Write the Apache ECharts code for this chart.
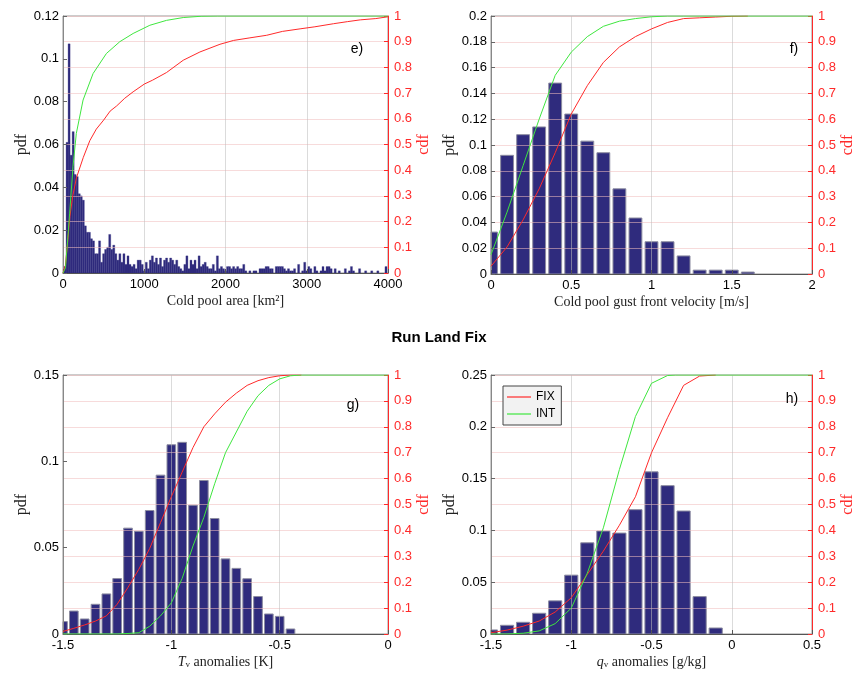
<!DOCTYPE html>
<html><head><meta charset="utf-8">
<script src="https://cdn.jsdelivr.net/npm/echarts@6/dist/echarts.min.js"></script>
<style>html,body{margin:0;padding:0;background:#fff}#c{width:857px;height:674px}</style>
</head><body><div id="c"></div>
<script>
// ---------- Panel e: Cold pool area ----------
const eBinFirst = 25, eBinStep = 25; // bin centres in km^2
const ePdf = [0.003,0.061,0.107,0.055,0.066,0.046,0.045,0.037,0.036,0.034,
0.022,0.019,0.019,0.016,0.015,0.009,0.009,0.015,0.005,0.009,
0.011,0.012,0.018,0.011,0.013,0.009,0.006,0.009,0.005,0.009,
0.004,0.008,0.004,0.003,0.004,0.002,0.006,0.006,0.004,0.001,
0.005,0.002,0.006,0.008,0.005,0.007,0.004,0.007,0.003,0.006,
0.007,0.005,0.007,0.006,0.004,0.006,0.003,0.002,0.001,0.004,
0.008,0.002,0.006,0.004,0.006,0.002,0.008,0.003,0.004,0.005,
0.003,0.002,0.002,0.004,0.001,0.008,0.002,0.003,0.002,0.001,
0.003,0.003,0.002,0.003,0.002,0.003,0.002,0.002,0.004,0.001,
0.000,0.001,0.000,0.001,0.001,0.000,0.002,0.002,0.002,0.003,
0.003,0.002,0.002,0.000,0.003,0.003,0.003,0.003,0.002,0.001,
0.002,0.001,0.001,0.002,0.000,0.004,0.000,0.001,0.005,0.001,
0.003,0.002,0.000,0.003,0.001,0.000,0.001,0.003,0.001,0.003,
0.003,0.002,0.000,0.002,0.000,0.001,0.000,0.000,0.002,0.000,
0.001,0.003,0.001,0.000,0.000,0.002,0.000,0.000,0.001,0.000,
0.000,0.001,0.000,0.000,0.001,0.000,0.000,0.000,0.003,0.000];
const eFixX = [0,30,60,85,120,165,250,330,410,500,580,660,760,863,1000,1100,1274,1480,1685,1932,2100,2300,2507,2700,2918,3100,3330,3500,3660,3850,4000];
const eFixY = [0,0.03,0.13,0.22,0.30,0.37,0.45,0.515,0.56,0.595,0.63,0.65,0.68,0.705,0.735,0.75,0.78,0.828,0.86,0.89,0.905,0.915,0.925,0.94,0.95,0.958,0.97,0.978,0.985,0.99,0.997];
const eIntX = [0,30,60,82,123,164,247,370,534,699,863,1069,1274,1480,1700,1900,4000];
const eIntY = [0,0.02,0.14,0.233,0.414,0.543,0.673,0.776,0.854,0.9,0.932,0.964,0.983,0.994,0.999,1,1];

// ---------- Panel f: gust front velocity ----------
const fBins = [0,0.1,0.2,0.3,0.4,0.5,0.6,0.7,0.8,0.9,1.0,1.1,1.2,1.3,1.4,1.5,1.6];
const fPdf  = [0.0325,0.092,0.108,0.114,0.148,0.124,0.103,0.094,0.066,0.0434,0.025,0.025,0.014,0.003,0.003,0.003,0.0015];
const fFixX = [0,0.1,0.2,0.3,0.4,0.5,0.6,0.7,0.8,0.9,1.0,1.1,1.2,1.3,1.4,1.5,1.6];
const fFixY = [0.03,0.105,0.21,0.33,0.47,0.62,0.73,0.82,0.88,0.92,0.95,0.975,0.99,0.993,0.996,0.999,1];
const fIntX = [0,0.1,0.2,0.3,0.4,0.5,0.6,0.7,0.8,0.9,1.0,1.1,1.2,2.0];
const fIntY = [0.075,0.24,0.42,0.6,0.77,0.86,0.92,0.96,0.98,0.99,0.997,1,1,1];

// ---------- Panel g: Tv anomalies ----------
const gBins = [-1.5,-1.45,-1.4,-1.35,-1.3,-1.25,-1.2,-1.15,-1.1,-1.05,-1.0,-0.95,-0.9,-0.85,-0.8,-0.75,-0.7,-0.65,-0.6,-0.55,-0.5,-0.45];
const gPdf  = [0.0072,0.0133,0.0087,0.0172,0.0232,0.0321,0.0613,0.0595,0.0715,0.092,0.1096,0.111,0.0746,0.0889,0.0669,0.0435,0.038,0.032,0.0217,0.0116,0.0102,0.0029];
const gFixX = [-1.5,-1.45,-1.4,-1.35,-1.3,-1.25,-1.2,-1.15,-1.1,-1.05,-1.0,-0.95,-0.9,-0.85,-0.8,-0.75,-0.7,-0.65,-0.6,-0.55,-0.5,-0.45,-0.4];
const gFixY = [0.01,0.022,0.035,0.05,0.07,0.115,0.18,0.25,0.33,0.43,0.53,0.625,0.72,0.8,0.85,0.895,0.93,0.96,0.978,0.99,0.997,1,1];
const gIntX = [-1.5,-1.25,-1.2,-1.15,-1.1,-1.05,-1.0,-0.95,-0.9,-0.85,-0.8,-0.75,-0.7,-0.65,-0.6,-0.55,-0.5,-0.45,-0.4,0];
const gIntY = [0,0,0.002,0.005,0.03,0.07,0.12,0.215,0.34,0.45,0.58,0.7,0.78,0.86,0.92,0.96,0.985,0.997,1,1];

// ---------- Panel h: qv anomalies ----------
const hBins = [-1.5,-1.4,-1.3,-1.2,-1.1,-1.0,-0.9,-0.8,-0.7,-0.6,-0.5,-0.4,-0.3,-0.2,-0.1];
const hPdf  = [0.0039,0.0084,0.0113,0.02,0.032,0.0568,0.088,0.0994,0.0974,0.12,0.1565,0.1432,0.1187,0.0361,0.0058];
const hFixX = [-1.5,-1.4,-1.3,-1.2,-1.1,-1.0,-0.9,-0.8,-0.7,-0.6,-0.5,-0.4,-0.3,-0.2,-0.1];
const hFixY = [0.005,0.015,0.03,0.05,0.085,0.14,0.23,0.32,0.42,0.53,0.7,0.835,0.96,0.996,1];
const hIntX = [-1.5,-1.4,-1.3,-1.2,-1.1,-1.0,-0.9,-0.8,-0.7,-0.6,-0.5,-0.4,-0.35,0.5];
const hIntY = [0,0,0.003,0.012,0.04,0.1,0.235,0.41,0.635,0.84,0.968,0.998,1,1];

// ---------- axis ranges / tick settings ----------
const xRanges  = [[0,4000,1000],[0,2,0.5],[-1.5,0,0.5],[-1.5,0.5,0.5]];
const pdfRanges = [[0,0.12,0.02],[0,0.2,0.02],[0,0.15,0.05],[0,0.25,0.05]];
const xNames = ['Cold pool area [km²]','Cold pool gust front velocity [m/s]','{it|T}{sub|v} anomalies [K]','{it|q}{sub|v} anomalies [g/kg]'];
const panelTags = ['e)','f)','g)','h)'];
const titleText = 'Run Land Fix';

const eBins = ePdf.map((_, i) => eBinFirst + i * eBinStep);

const NAVY = '#2f2b7d', RED = '#ff2a2a', GREEN = '#3fe63f';
const SERIF = '"Liberation Serif","DejaVu Serif",serif';
const SANS = '"Liberation Sans",Arial,sans-serif';

const grids = [
  {left:63, top:16, width:325, height:257},
  {left:491, top:16, width:325, height:258},
  {left:63, top:375, width:325, height:259},
  {left:491, top:375, width:325, height:259}
];
// drawn bar width in data units (style)
const barDataWidths = [25, 0.08, 0.04, 0.082];
const bins = [eBins, fBins, gBins, hBins];
const pdfs = [ePdf, fPdf, gPdf, hPdf];
const fixes = [[eFixX,eFixY],[fFixX,fFixY],[gFixX,gFixY],[hFixX,hFixY]];
const ints = [[eIntX,eIntY],[fIntX,fIntY],[gIntX,gIntY],[hIntX,hIntY]];
const pairs = (xs, ys) => xs.map((x, i) => [x, ys[i]]);
const plain = v => String(+v.toFixed(4));

function barRenderer(halfW, stroked) {
  return function (params, api) {
    const x = api.value(0), y = api.value(1);
    if (!(y > 0)) return null;
    const p0 = api.coord([x - halfW, 0]);
    const p1 = api.coord([x + halfW, y]);
    const cs = params.coordSys;
    const r = echarts.graphic.clipRectByRect(
      {x: p0[0], y: p1[1], width: p1[0] - p0[0], height: p0[1] - p1[1]},
      {x: cs.x, y: cs.y, width: cs.width, height: cs.height});
    if (!r) return null;
    return {type:'rect', shape:r,
      style: stroked ? {fill:NAVY, stroke:'#8c8ca0', lineWidth:1} : {fill:NAVY, stroke:NAVY, lineWidth:0.3}};
  };
}

const xAxis = [], yAxis = [], series = [];
for (let i = 0; i < 4; i++) {
  xAxis.push({
    type:'value', gridIndex:i, min:xRanges[i][0], max:xRanges[i][1], interval:xRanges[i][2], z:3,
    axisLine:{show:true, onZero:false, lineStyle:{color:'#555', width:1}},
    axisTick:{show:true, inside:true, length:4, lineStyle:{color:'#555'}},
    axisLabel:{color:'#000', fontSize:13, fontFamily:SANS, margin:5, formatter:plain},
    splitLine:{show:true, lineStyle:{color:'rgba(190,190,190,0.55)', width:1}},
    name:xNames[i], nameLocation:'middle', nameGap:21,
    nameTextStyle:{color:'#222', fontSize:14, fontFamily:SERIF,
      rich:{it:{fontStyle:'italic', fontSize:14, fontFamily:SERIF, color:'#222'},
            sub:{fontSize:9, fontFamily:SERIF, color:'#222', verticalAlign:'bottom', lineHeight:10}}}
  });
  yAxis.push({
    type:'value', gridIndex:i, position:'left', min:pdfRanges[i][0], max:pdfRanges[i][1], interval:pdfRanges[i][2], z:3,
    axisLine:{show:true, onZero:false, lineStyle:{color:'#888'}},
    axisTick:{show:true, inside:true, length:4, lineStyle:{color:'#666'}},
    axisLabel:{color:'#000', fontSize:13, fontFamily:SANS, margin:4, formatter:plain},
    splitLine:{show:false},
    name:'pdf', nameLocation:'middle', nameGap:33,
    nameTextStyle:{color:'#222', fontSize:16, fontFamily:SERIF}
  });
  yAxis.push({
    type:'value', gridIndex:i, position:'right', min:0, max:1, interval:0.1, z:3,
    axisLine:{show:true, onZero:false, lineStyle:{color:RED}},
    axisTick:{show:true, inside:true, length:4, lineStyle:{color:RED}},
    axisLabel:{color:RED, fontSize:13, fontFamily:SANS, margin:6, formatter:plain},
    splitLine:{show:true, lineStyle:{color:'rgba(240,190,190,0.55)', width:1}},
    name:'cdf', nameLocation:'middle', nameGap:28,
    nameTextStyle:{color:RED, fontSize:16, fontFamily:SERIF}
  });
  series.push({
    type:'custom', name:'pdf'+i, xAxisIndex:i, yAxisIndex:2*i, data:pairs(bins[i], pdfs[i]),
    renderItem: barRenderer(barDataWidths[i] / 2, i !== 0), z:2, silent:true,
    encode:{x:0, y:1}
  });
  series.push({
    type:'line', name:'FIX', xAxisIndex:i, yAxisIndex:2*i+1, data:pairs(fixes[i][0], fixes[i][1]),
    symbol:'none', z:5, clip:true, lineStyle:{color:RED, width:1}, itemStyle:{color:RED}
  });
  series.push({
    type:'line', name:'INT', xAxisIndex:i, yAxisIndex:2*i+1, data:pairs(ints[i][0], ints[i][1]),
    symbol:'none', z:5, clip:true, lineStyle:{color:GREEN, width:1}, itemStyle:{color:GREEN}
  });
}

const tagPos = [[357,49],[794,49],[353,405],[792,399]];
const graphic = panelTags.map((t, i) => ({
  type:'text', x:tagPos[i][0], y:tagPos[i][1], z:10,
  style:{text:t, fill:'#000', font:'14px '+SANS, textAlign:'center', textVerticalAlign:'middle'}
}));
graphic.push({type:'text', x:439, y:338, z:10,
  style:{text:titleText, fill:'#000', font:'bold 15px '+SANS, textAlign:'center', textVerticalAlign:'middle'}});

const chart = echarts.init(document.getElementById('c'), null, {renderer:'canvas'});
chart.setOption({
  animation:false,
  backgroundColor:'#fff',
  grid: grids.map(g => Object.assign({show:true, borderColor:'#999', borderWidth:1, backgroundColor:'transparent'}, g)),
  xAxis, yAxis, series, graphic,
  legend:{data:['FIX','INT'], left:503, top:386, orient:'vertical', icon:'rect', itemWidth:24, itemHeight:1.2, itemGap:5,
    padding:[5,6,5,4], backgroundColor:'#f2f2f2', borderColor:'#444', borderWidth:1, selectedMode:false,
    textStyle:{fontSize:12, fontFamily:SANS, color:'#000'}}
});
</script></body></html>
